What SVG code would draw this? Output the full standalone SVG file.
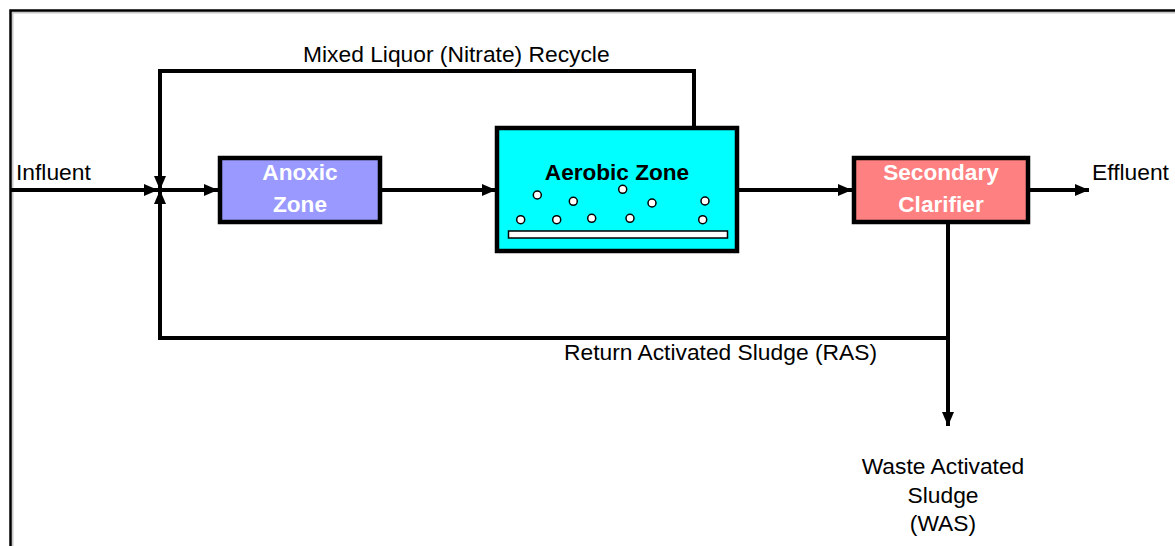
<svg xmlns="http://www.w3.org/2000/svg" width="1175" height="546" viewBox="0 0 1175 546">
<defs>
<style>
.t{font-family:"Liberation Sans",Arial,sans-serif;font-size:22.8px;fill:#000}
.b{font-family:"Liberation Sans",Arial,sans-serif;font-size:22.6px;font-weight:bold;text-anchor:middle}
.w{fill:#fff}
.k{fill:#000}
.ln{fill:none;stroke:#000;stroke-width:4}
.box{stroke:#000;stroke-width:4.5}
.bub{fill:#fff;stroke:#000;stroke-width:1.5}
</style>
<marker id="ah" viewBox="0 0 14 12" refX="14" refY="6" markerWidth="14" markerHeight="12" markerUnits="userSpaceOnUse" orient="auto">
<path d="M0,0 L14,6 L0,12 Z" fill="#000"/>
</marker>
</defs>
<rect width="1175" height="546" fill="#fff"/>
<g id="frame">
<path d="M12.5,546 V12.5 H1175" fill="none" stroke="#c8c8c8" stroke-width="2"/>
<path d="M10.5,546 V10.5 H1175" fill="none" stroke="#000" stroke-width="2.5"/>
</g>
<g id="connectors">
<path class="ln" d="M10,190 H158" marker-end="url(#ah)"/>
<path class="ln" d="M158,190 H218" marker-end="url(#ah)"/>
<path class="ln" d="M694,127 V71 H160 V190" marker-end="url(#ah)"/>
<path class="ln" d="M948,338 H160 V190" marker-end="url(#ah)"/>
<path class="ln" d="M380,190 H496" marker-end="url(#ah)"/>
<path class="ln" d="M737,190 H852" marker-end="url(#ah)"/>
<path class="ln" d="M1028,190 H1089" marker-end="url(#ah)"/>
<path class="ln" d="M948,222 V426" marker-end="url(#ah)"/>
</g>
<g id="anoxic">
<rect class="box" x="220" y="158" width="160" height="64" fill="#9999FF"/>
<text class="b w" x="300" y="180">Anoxic</text>
<text class="b w" x="300" y="211.5">Zone</text>
</g>
<g id="aerobic">
<rect class="box" x="497" y="128" width="240" height="123" fill="#00FFFF"/>
<text class="b k" x="617" y="180">Aerobic Zone</text>
<rect x="508.5" y="231" width="219" height="7" fill="#fff" stroke="#000" stroke-width="1.5"/>
<circle class="bub" cx="537.3" cy="195" r="4"/>
<circle class="bub" cx="573.3" cy="201.3" r="4"/>
<circle class="bub" cx="622.7" cy="189.3" r="4"/>
<circle class="bub" cx="652" cy="203" r="4"/>
<circle class="bub" cx="705" cy="201" r="4"/>
<circle class="bub" cx="520.7" cy="219.7" r="4"/>
<circle class="bub" cx="556.7" cy="219.7" r="4"/>
<circle class="bub" cx="591.7" cy="218.3" r="4"/>
<circle class="bub" cx="630" cy="218.3" r="4"/>
<circle class="bub" cx="702.7" cy="219.7" r="4"/>
</g>
<g id="clarifier">
<rect class="box" x="854" y="158" width="174" height="64" fill="#FF8080"/>
<text class="b w" x="941" y="180">Secondary</text>
<text class="b w" x="941" y="211.5">Clarifier</text>
</g>
<g id="labels">
<text class="t" x="16" y="180">Influent</text>
<text class="t" x="303" y="62">Mixed Liquor (Nitrate) Recycle</text>
<text class="t" x="1092" y="180">Effluent</text>
<text class="t" x="564" y="360">Return Activated Sludge (RAS)</text>
<text class="t" x="943" y="474" text-anchor="middle">Waste Activated</text>
<text class="t" x="943" y="503" text-anchor="middle">Sludge</text>
<text class="t" x="943" y="531" text-anchor="middle">(WAS)</text>
</g>
</svg>
